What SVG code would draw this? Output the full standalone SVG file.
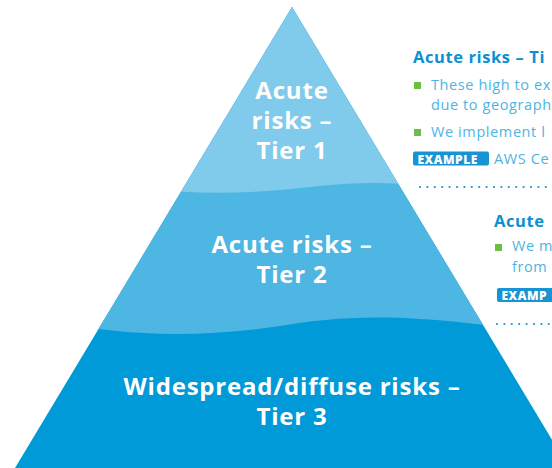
<svg xmlns="http://www.w3.org/2000/svg" width="552" height="468" viewBox="0 0 552 468">
<style>
.tier{font-family:"Open Sans","Noto Sans",sans-serif;font-weight:700;font-size:24px;letter-spacing:0.8px;fill:#ffffff;text-anchor:middle}
.hd{font-family:"Open Sans","Noto Sans",sans-serif;font-weight:700;font-size:16.5px;letter-spacing:0.6px;fill:#0c8fd3}
.bd{font-family:"Open Sans","Noto Sans",sans-serif;font-weight:400;font-size:14.5px;letter-spacing:0.6px;fill:#4db4e3}
.bul{fill:#6cbe45}
.badge{fill:#1794d4}
.bt{font-family:"Open Sans","Noto Sans",sans-serif;font-weight:800;font-size:12px;letter-spacing:0.5px;fill:#ffffff}
.dots{stroke:#1794d4;stroke-width:2.2;stroke-linecap:round;stroke-dasharray:0 7.4;fill:none}
</style>
<defs>
<clipPath id="tri"><polygon points="292,7 15,468 569,468"/></clipPath>
</defs>
<g id="pyramid" clip-path="url(#tri)">
<rect x="0" y="0" width="600" height="468" fill="#009ad9"/>
<path d="M60,322 C120,336 200,338 280,326 C340,316 400,312 520,330 L520,0 L60,0 Z" fill="#4db6e3"/>
<path d="M150,188 C200,196 260,193 320,186 C360,182 390,182 430,187 L430,0 L150,0 Z" fill="#80cbeb"/>
</g>
<g id="tier1">
<text class="tier" x="292" y="99">Acute</text>
<text class="tier" x="292" y="129">risks –</text>
<text class="tier" x="292" y="159">Tier 1</text>
</g>
<g id="tier2">
<text class="tier" x="292" y="253">Acute risks –</text>
<text class="tier" x="292" y="283">Tier 2</text>
</g>
<g id="tier3">
<text class="tier" x="292" y="395">Widespread/diffuse risks –</text>
<text class="tier" x="292" y="425">Tier 3</text>
</g>
<g id="desc1">
<text class="hd" x="413" y="63">Acute risks – Ti</text>
<rect class="bul" x="414" y="82" width="7" height="7"/>
<text class="bd" x="431" y="90">These high to ex</text>
<text class="bd" x="431" y="110">due to geograph</text>
<rect class="bul" x="414" y="129" width="7" height="7"/>
<text class="bd" x="431" y="137">We implement l</text>
<rect class="badge" x="413" y="151.5" width="76" height="14" rx="2"/>
<text class="bt" x="417.5" y="163.5">EXAMPLE</text>
<text class="bd" x="494" y="164">AWS Ce</text>
</g>
<g id="desc2">
<text class="hd" x="494" y="227">Acute</text>
<rect class="bul" x="495" y="244" width="7" height="7"/>
<text class="bd" x="512" y="251">We m</text>
<text class="bd" x="512" y="272">from</text>
<rect class="badge" x="497" y="288" width="60" height="14" rx="2"/>
<text class="bt" x="501.5" y="300">EXAMP</text>
</g>
<g id="connectors">
<line class="dots" x1="420" y1="187" x2="552" y2="187"/>
<line class="dots" x1="497" y1="324" x2="552" y2="324"/>
</g>
</svg>
